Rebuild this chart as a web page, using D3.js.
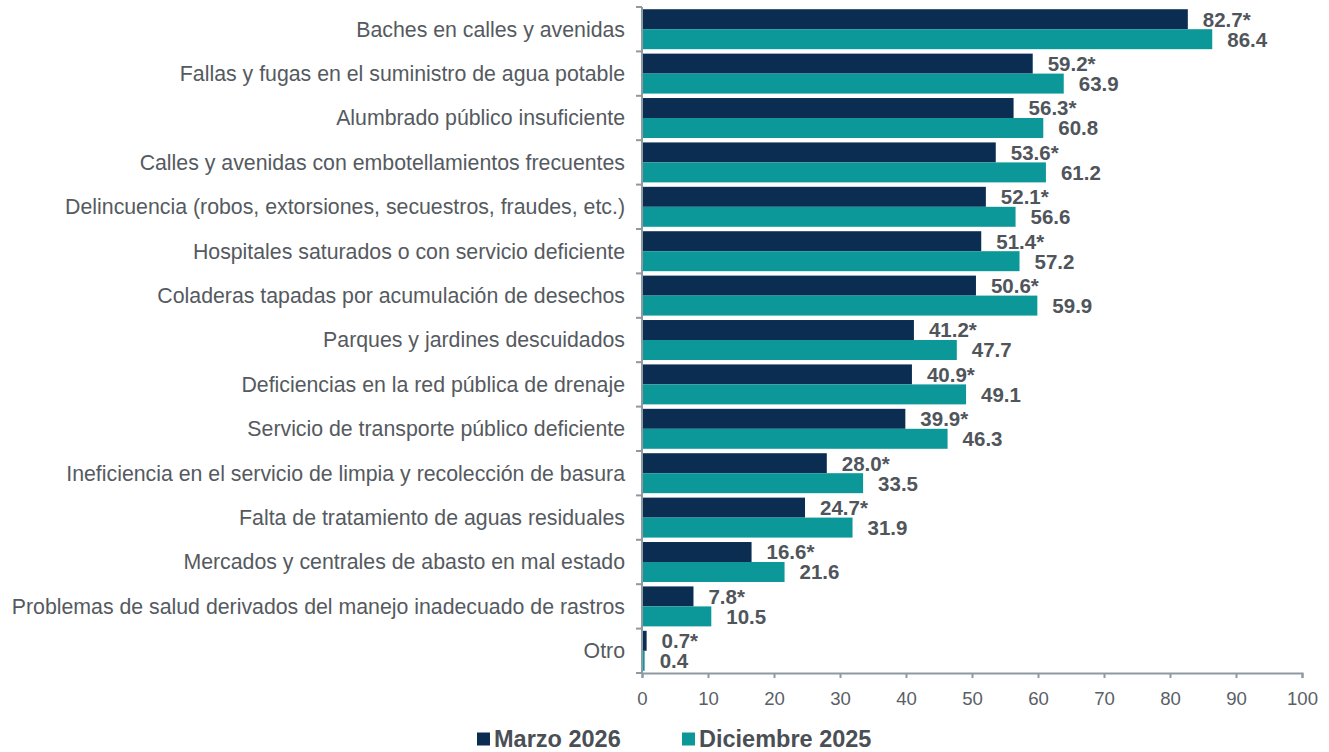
<!DOCTYPE html>
<html>
<head>
<meta charset="utf-8">
<script src="https://cdn.jsdelivr.net/npm/d3@7"></script>
<style>
  body { margin: 0; background: #fff; }
  svg text { font-family: "Liberation Sans", Arial, sans-serif; }
</style>
</head>
<body>
<div id="chart"></div>
<script>
var categories = [
  "Baches en calles y avenidas",
  "Fallas y fugas en el suministro de agua potable",
  "Alumbrado público insuficiente",
  "Calles y avenidas con embotellamientos frecuentes",
  "Delincuencia (robos, extorsiones, secuestros, fraudes, etc.)",
  "Hospitales saturados o con servicio deficiente",
  "Coladeras tapadas por acumulación de desechos",
  "Parques y jardines descuidados",
  "Deficiencias en la red pública de drenaje",
  "Servicio de transporte público deficiente",
  "Ineficiencia en el servicio de limpia y recolección de basura",
  "Falta de tratamiento de aguas residuales",
  "Mercados y centrales de abasto en mal estado",
  "Problemas de salud derivados del manejo inadecuado de rastros",
  "Otro"
];
var marzo2026 = [82.7, 59.2, 56.3, 53.6, 52.1, 51.4, 50.6, 41.2, 40.9, 39.9, 28.0, 24.7, 16.6, 7.8, 0.7];
var diciembre2025 = [86.4, 63.9, 60.8, 61.2, 56.6, 57.2, 59.9, 47.7, 49.1, 46.3, 33.5, 31.9, 21.6, 10.5, 0.4];
var seriesNames = ["Marzo 2026", "Diciembre 2025"];
var xTicks = [0, 10, 20, 30, 40, 50, 60, 70, 80, 90, 100];

var colors = ["#0b2d52", "#0c9799"];
var W = 1329, H = 752;
var margin = { top: 7, right: 27, bottom: 79, left: 642 };
var width = W - margin.left - margin.right,
    height = H - margin.top - margin.bottom;

var svg = d3.select("#chart").append("svg").attr("width", W).attr("height", H);
var g = svg.append("g").attr("transform", "translate(" + margin.left + "," + margin.top + ")");

var x = d3.scaleLinear().domain([0, 100]).range([0, width]);
var y = d3.scaleBand().domain(categories).range([0, height]).paddingInner(0.1).paddingOuter(0.05);
var sub = d3.scaleBand().domain([0, 1]).range([0, y.bandwidth()]);

var rows = categories.map(function(c, i) {
  return { cat: c, vals: [marzo2026[i], diciembre2025[i]] };
});

var row = g.selectAll(".row").data(rows).enter().append("g")
  .attr("transform", function(d) { return "translate(0," + y(d.cat) + ")"; });

row.selectAll("rect").data(function(d) { return d.vals; }).enter().append("rect")
  .attr("x", x(0))
  .attr("y", function(d, i) { return sub(i); })
  .attr("width", function(d) { return x(d) - x(0); })
  .attr("height", sub.bandwidth())
  .attr("fill", function(d, i) { return colors[i]; });

// value labels, Marzo ones carry the asterisk
row.selectAll(".val").data(function(d) { return d.vals; }).enter().append("text")
  .attr("class", "val")
  .attr("x", function(d) { return x(d) + 15; })
  .attr("y", function(d, i) { return sub(i) + sub.bandwidth() / 2; })
  .attr("dy", "0.36em")
  .attr("font-size", 20.5)
  .attr("font-weight", "bold")
  .attr("fill", "#50555b")
  .text(function(d, i) { return d.toFixed(1) + (i === 0 ? "*" : ""); });

// category labels
g.selectAll(".cat").data(categories).enter().append("text")
  .attr("class", "cat")
  .attr("x", -17)
  .attr("y", function(d) { return y(d) + y.bandwidth() / 2; })
  .attr("dy", "0.35em")
  .attr("text-anchor", "end")
  .attr("font-size", 21.3)
  .attr("fill", "#555a60")
  .text(function(d) { return d; });

// y axis line with ticks at band boundaries
var axisColor = "#8d99a3";
g.append("line").attr("x1", 0).attr("x2", 0).attr("y1", 0).attr("y2", height)
  .attr("stroke", axisColor).attr("stroke-width", 2);
var bounds = categories.map(function(c) { return y(c) - y.step() * y.paddingInner() / 2; });
bounds.push(height);
g.selectAll(".ytick").data(bounds).enter().append("line")
  .attr("x1", -6).attr("x2", 0)
  .attr("y1", function(d) { return d; }).attr("y2", function(d) { return d; })
  .attr("stroke", axisColor).attr("stroke-width", 2);

// x axis
var xAxis = g.append("g").attr("transform", "translate(0," + height + ")")
  .call(d3.axisBottom(x).tickValues(xTicks).tickSize(5).tickPadding(14));
xAxis.select(".domain").attr("stroke", axisColor).attr("stroke-width", 2);
xAxis.selectAll(".tick line").attr("stroke", axisColor).attr("stroke-width", 2);
xAxis.selectAll(".tick text")
  .attr("font-size", 18.6)
  .attr("fill", "#5a5f66")
  .style("font-family", "'Liberation Sans', Arial, sans-serif");

// legend
var legendX = [477, 682];
var legend = svg.selectAll(".leg").data(seriesNames).enter().append("g")
  .attr("transform", function(d, i) { return "translate(" + legendX[i] + ",739)"; });
legend.append("rect").attr("x", 0).attr("y", -6.5).attr("width", 13).attr("height", 13)
  .attr("fill", function(d, i) { return colors[i]; });
legend.append("text").attr("x", 17).attr("dy", "0.36em")
  .attr("font-size", 23.5).attr("font-weight", "bold").attr("fill", "#4a4f56")
  .text(function(d) { return d; });
</script>
</body>
</html>
